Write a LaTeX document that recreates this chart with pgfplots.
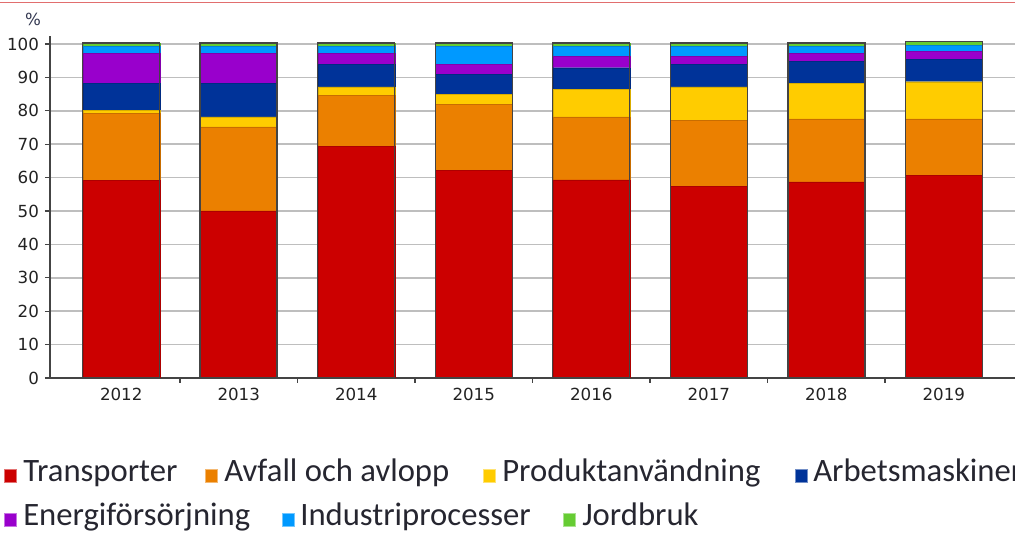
\documentclass[border=0pt]{standalone}
\usepackage{pgfplots}
\pgfplotsset{compat=1.18}
\usepackage{fontspec}
\setmainfont{DejaVu Sans}
\newfontfamily\legfont{Carlito}
\definecolor{cTr}{HTML}{CC0000}
\definecolor{cAv}{HTML}{EB8000}
\definecolor{cPr}{HTML}{FFCC00}
\definecolor{cAr}{HTML}{003399}
\definecolor{cEn}{HTML}{9900CC}
\definecolor{cIn}{HTML}{0099FF}
\definecolor{cJo}{HTML}{66CC33}
\definecolor{axcol}{HTML}{444444}
\definecolor{txt}{HTML}{222222}
\definecolor{legtxt}{HTML}{262630}
\begin{document}
\begin{tikzpicture}[x=0.75pt,y=0.75pt]
\path[use as bounding box] (0,0) rectangle (1015,534);
\draw[color={rgb,255:red,225;green,110;blue,110}, line width=0.75pt] (0,531) -- (1015,531);
\pgfplotsset{
  common/.style={
    at={(37.5pt,117pt)}, anchor=south west,
    scale only axis, width=723.75pt, height=256.5pt,
    xmin=-0.606, xmax=7.606, ymin=0, ymax=102.4,
    bar width=57.75pt,
  }
}
\begin{axis}[common,
  ybar stacked,
  /pgf/number format/assume math mode=true,
  axis x line=bottom, axis y line=left,
  axis line style={-, draw=axcol, line width=1.1pt},
  xtick={0,...,7},
  xticklabels={2012,2013,2014,2015,2016,2017,2018,2019},
  minor xtick={0.5,1.5,...,6.5},
  major x tick style={draw=none},
  minor x tick style={draw=axcol, line width=1pt},
  ytick={0,10,...,100},
  y tick style={draw=axcol, line width=1pt},
  tick align=outside,
  major tick length=3.75pt, minor tick length=3.75pt,
  ymajorgrids,
  grid style={draw={rgb,255:red,190;green,190;blue,190}, line width=1.1pt},
  ticklabel style={font=\fontsize{12.5}{14}\selectfont, text=txt},
  yticklabel style={xshift=-1pt},
  xticklabel style={yshift=0pt},
  every axis plot/.append style={line width=0.3pt},
]
\addplot[fill=cTr, draw=cTr!85!black] coordinates {(0,59.2) (1,50.0) (2,69.3) (3,62.1) (4,59.3) (5,57.3) (6,58.7) (7,60.7)};
\addplot[fill=cAv, draw=cAv!85!black] coordinates {(0,20.1) (1,25.2) (2,15.4) (3,19.9) (4,18.9) (5,19.9) (6,18.9) (7,16.9)};
\addplot[fill=cPr, draw=cPr!85!black] coordinates {(0,0.8) (1,3.0) (2,2.5) (3,2.9) (4,8.2) (5,10.0) (6,10.6) (7,11.1)};
\addplot[fill=cAr, draw=cAr!85!black] coordinates {(0,8.2) (1,10.0) (2,6.7) (3,6.1) (4,6.5) (5,6.7) (6,6.7) (7,6.7)};
\addplot[fill=cEn, draw=cEn!85!black] coordinates {(0,9.0) (1,9.0) (2,3.3) (3,2.9) (4,3.5) (5,2.5) (6,2.3) (7,2.5)};
\addplot[fill=cIn, draw=cIn!85!black] coordinates {(0,2.0) (1,2.1) (2,2.1) (3,5.4) (4,2.9) (5,2.9) (6,2.1) (7,1.8)};
\addplot[fill=cJo, draw=cJo!85!black] coordinates {(0,1.0) (1,1.0) (2,1.0) (3,1.0) (4,1.0) (5,1.0) (6,1.0) (7,1.0)};
\end{axis}
\begin{axis}[common, hide axis, ybar]
\addplot[fill=none, draw=axcol, line width=1.1pt] coordinates {(0,100.3) (1,100.3) (2,100.3) (3,100.3) (4,100.3) (5,100.3) (6,100.3) (7,100.7)};
\end{axis}
\node[anchor=base, inner sep=0, text={rgb,255:red,50;green,55;blue,80}, font=\fontsize{12.5}{14}\selectfont] at (33,508) {\%};
% legend
\def\legfs{\legfont\fontsize{24.5}{28}\selectfont}
\foreach \sx/\tx/\yy/\cc/\lab in {4/23/52/cTr/Transporter, 205/224/52/cAv/Avfall och avlopp, 483/502/52/cPr/Produktanvändning, 795/813/52/cAr/Arbetsmaskiner, 4/23/8/cEn/Energiförsörjning, 282/300/8/cIn/Industriprocesser, 563/582/8/cJo/Jordbruk}{
  \fill[\cc, draw=\cc!55!white, line width=0.5pt] (\sx,\yy) rectangle ++(12,13);
  \node[anchor=base west, inner sep=0, text=legtxt] at (\tx,\yy) {\legfs \lab};
}
\end{tikzpicture}
\end{document}
